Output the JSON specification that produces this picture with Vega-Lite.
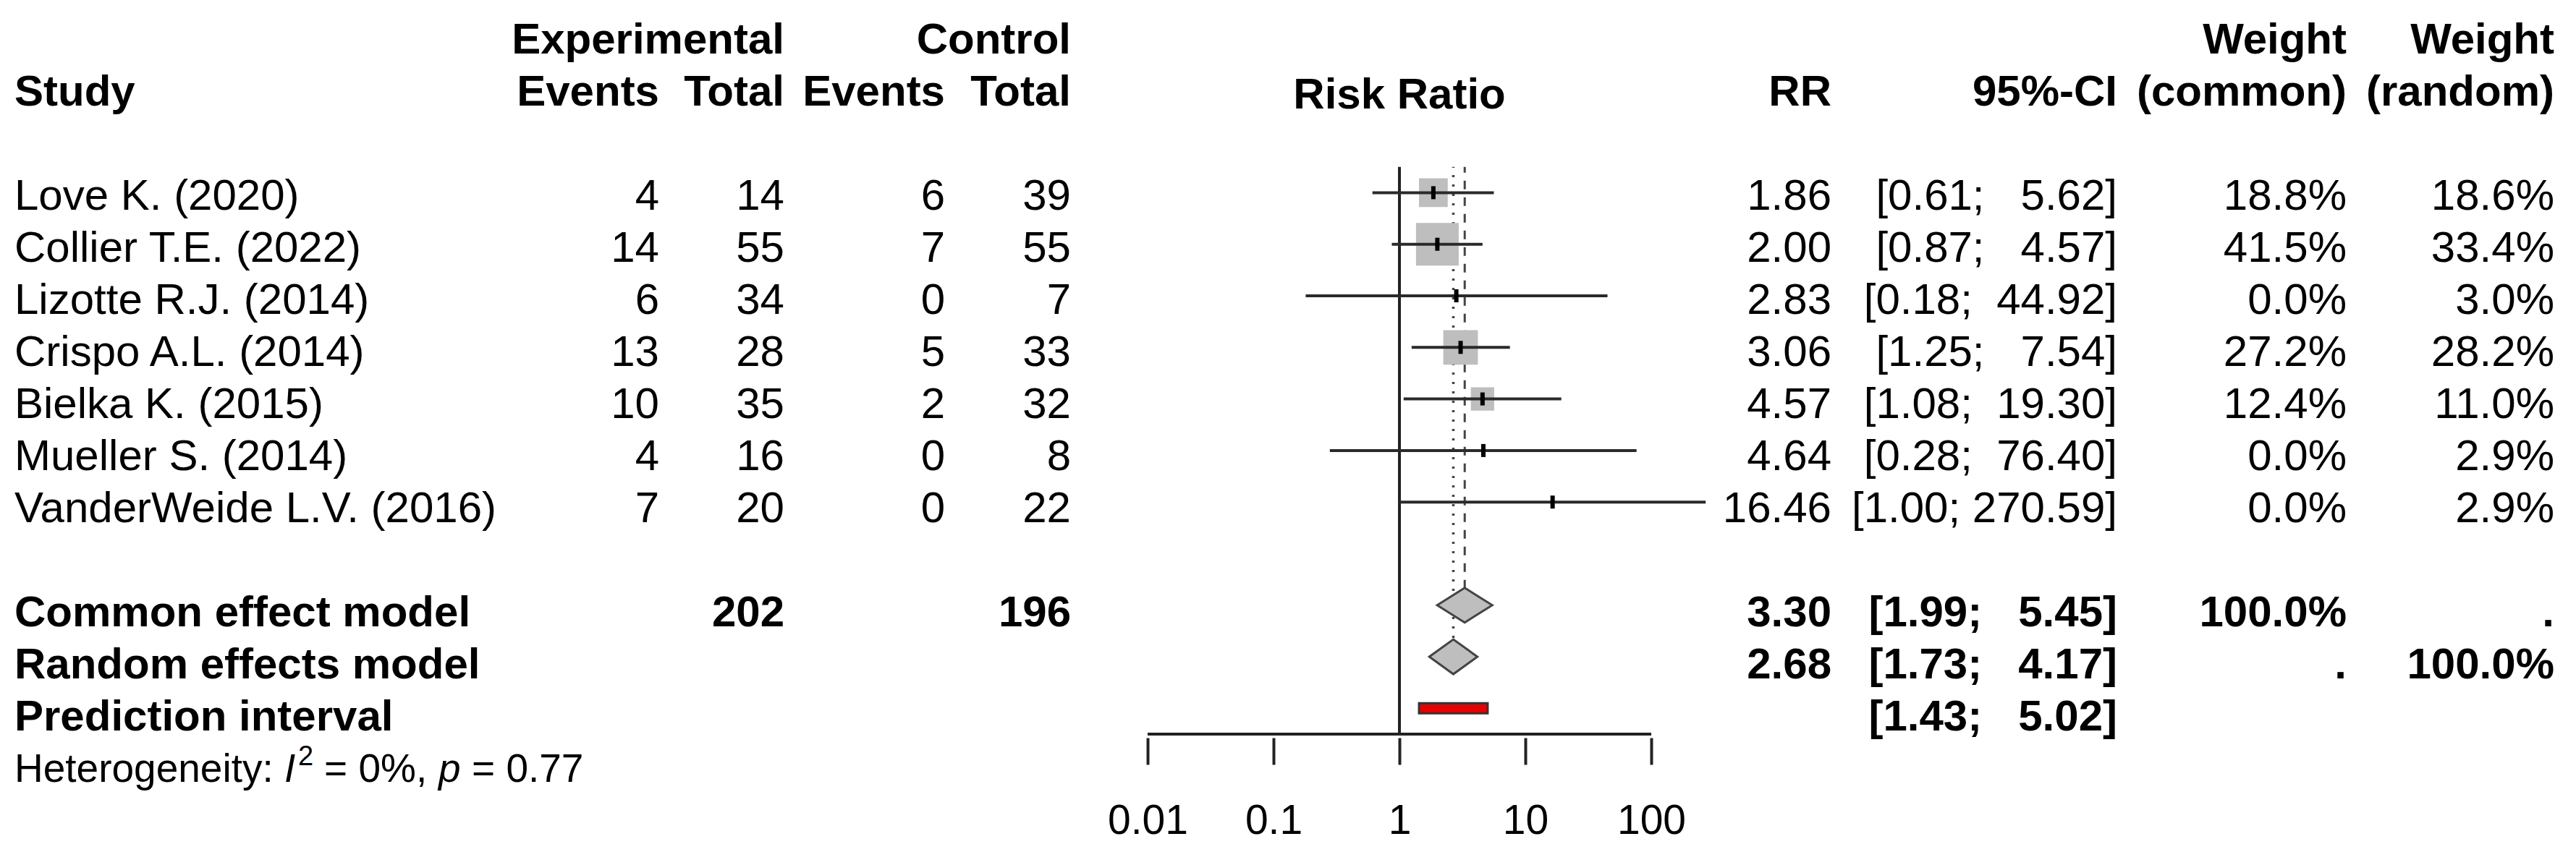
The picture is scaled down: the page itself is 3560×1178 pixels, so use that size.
{
  "$schema": "https://vega.github.io/schema/vega-lite/v6.json",
  "background": "white",
  "padding": {"left": 20, "top": 0, "right": 0, "bottom": 0},
  "spacing": 0,
  "bounds": "flush",
  "config": {
    "view": {"stroke": null},
    "text": {"font": "Liberation Sans", "fontSize": 60, "baseline": "middle", "dy": 8, "color": "black"}
  },
  "resolve": {"scale": {"x": "independent", "y": "independent"}},
  "datasets": {
    "rows": [
      {"study": "Love K. (2020)", "row": 0, "kind": "study", "ee": "4", "et": "14", "ce": "6", "ct": "39", "rr": 1.86, "lo": 0.61, "hi": 5.62, "ci": "[0.61;\u00a0\u00a0\u00a05.62]", "wc": 18.8, "wct": "18.8%", "wrt": "18.6%"},
      {"study": "Collier T.E. (2022)", "row": 1, "kind": "study", "ee": "14", "et": "55", "ce": "7", "ct": "55", "rr": 2.00, "lo": 0.87, "hi": 4.57, "ci": "[0.87;\u00a0\u00a0\u00a04.57]", "wc": 41.5, "wct": "41.5%", "wrt": "33.4%"},
      {"study": "Lizotte R.J. (2014)", "row": 2, "kind": "study", "ee": "6", "et": "34", "ce": "0", "ct": "7", "rr": 2.83, "lo": 0.18, "hi": 44.92, "ci": "[0.18;\u00a0\u00a044.92]", "wc": 0, "wct": "0.0%", "wrt": "3.0%"},
      {"study": "Crispo A.L. (2014)", "row": 3, "kind": "study", "ee": "13", "et": "28", "ce": "5", "ct": "33", "rr": 3.06, "lo": 1.25, "hi": 7.54, "ci": "[1.25;\u00a0\u00a0\u00a07.54]", "wc": 27.2, "wct": "27.2%", "wrt": "28.2%"},
      {"study": "Bielka K. (2015)", "row": 4, "kind": "study", "ee": "10", "et": "35", "ce": "2", "ct": "32", "rr": 4.57, "lo": 1.08, "hi": 19.30, "ci": "[1.08;\u00a0\u00a019.30]", "wc": 12.4, "wct": "12.4%", "wrt": "11.0%"},
      {"study": "Mueller S. (2014)", "row": 5, "kind": "study", "ee": "4", "et": "16", "ce": "0", "ct": "8", "rr": 4.64, "lo": 0.28, "hi": 76.40, "ci": "[0.28;\u00a0\u00a076.40]", "wc": 0, "wct": "0.0%", "wrt": "2.9%"},
      {"study": "VanderWeide L.V. (2016)", "row": 6, "kind": "study", "ee": "7", "et": "20", "ce": "0", "ct": "22", "rr": 16.46, "lo": 1.00, "hi": 270.59, "ci": "[1.00;\u00a0270.59]", "wc": 0, "wct": "0.0%", "wrt": "2.9%"},
      {"study": "Common effect model", "row": 8, "kind": "summary", "et": "202", "ct": "196", "rr": 3.30, "lo": 1.99, "hi": 5.45, "ci": "[1.99;\u00a0\u00a0\u00a05.45]", "wct": "100.0%", "wrt": "."},
      {"study": "Random effects model", "row": 9, "kind": "summary", "rr": 2.68, "lo": 1.73, "hi": 4.17, "ci": "[1.73;\u00a0\u00a0\u00a04.17]", "wct": ".", "wrt": "100.0%"},
      {"study": "Prediction interval", "row": 10, "kind": "summary", "lo": 1.43, "hi": 5.02, "ci": "[1.43;\u00a0\u00a0\u00a05.02]"}
    ],
    "headers": [
      {"col": "study", "row": -2, "label": "Study"},
      {"col": "ee", "row": -2, "label": "Events"},
      {"col": "et", "row": -3, "label": "Experimental"},
      {"col": "et", "row": -2, "label": "Total"},
      {"col": "ce", "row": -2, "label": "Events"},
      {"col": "ct", "row": -3, "label": "Control"},
      {"col": "ct", "row": -2, "label": "Total"},
      {"col": "plot", "row": -2, "label": "Risk Ratio"},
      {"col": "rr", "row": -2, "label": "RR"},
      {"col": "ci", "row": -2, "label": "95%-CI"},
      {"col": "wc", "row": -3, "label": "Weight"},
      {"col": "wc", "row": -2, "label": "(common)"},
      {"col": "wr", "row": -3, "label": "Weight"},
      {"col": "wr", "row": -2, "label": "(random)"}
    ],
    "note": [
      {"row": 11, "part": 1, "label": "Heterogeneity:"},
      {"row": 11, "part": 2, "label": "I"},
      {"row": 11, "part": 3, "label": "2"},
      {"row": 11, "part": 4, "label": "=\u00a00%,"},
      {"row": 11, "part": 5, "label": "p"},
      {"row": 11, "part": 6, "label": "=\u00a00.77"}
    ],
    "refline": [
      {"value": 1, "top": -0.5, "bottom": 10.5}
    ],
    "axisline": [
      {"from": 0.01, "to": 100, "row": 10.5}
    ]
  },
  "hconcat": [
    {
      "width": 600, "height": 1178,
      "layer": [
        {"data": {"name": "headers"}, "transform": [{"filter": "datum.col === 'study'"}],
         "mark": {"type": "text", "align": "left", "fontWeight": "bold"},
         "encoding": {"x": {"value": 0}, "y": {"field": "row", "type": "quantitative", "scale": {"domain": [-3.6667, 12.6944], "reverse": true, "nice": false, "zero": false}, "axis": null}, "text": {"field": "label"}}},
        {"data": {"name": "rows"}, "transform": [{"filter": "datum.kind === 'study'"}],
         "mark": {"type": "text", "align": "left"},
         "encoding": {"x": {"value": 0}, "y": {"field": "row", "type": "quantitative", "scale": {"domain": [-3.6667, 12.6944], "reverse": true, "nice": false, "zero": false}, "axis": null}, "text": {"field": "study"}}},
        {"data": {"name": "rows"}, "transform": [{"filter": "datum.kind === 'summary'"}],
         "mark": {"type": "text", "align": "left", "fontWeight": "bold"},
         "encoding": {"x": {"value": 0}, "y": {"field": "row", "type": "quantitative", "scale": {"domain": [-3.6667, 12.6944], "reverse": true, "nice": false, "zero": false}, "axis": null}, "text": {"field": "study"}}},
        {"data": {"name": "note"}, "transform": [{"filter": "datum.part === 1"}],
         "mark": {"type": "text", "align": "left", "fontSize": 55},
         "encoding": {"x": {"value": 0}, "y": {"field": "row", "type": "quantitative", "scale": {"domain": [-3.6667, 12.6944], "reverse": true, "nice": false, "zero": false}, "axis": null}, "text": {"field": "label"}}},
        {"data": {"name": "note"}, "transform": [{"filter": "datum.part === 2"}],
         "mark": {"type": "text", "align": "left", "fontSize": 55, "fontStyle": "italic", "dx": 373},
         "encoding": {"x": {"value": 0}, "y": {"field": "row", "type": "quantitative", "scale": {"domain": [-3.6667, 12.6944], "reverse": true, "nice": false, "zero": false}, "axis": null}, "text": {"field": "label"}}},
        {"data": {"name": "note"}, "transform": [{"filter": "datum.part === 3"}],
         "mark": {"type": "text", "align": "left", "fontSize": 38, "dx": 392, "dy": -9},
         "encoding": {"x": {"value": 0}, "y": {"field": "row", "type": "quantitative", "scale": {"domain": [-3.6667, 12.6944], "reverse": true, "nice": false, "zero": false}, "axis": null}, "text": {"field": "label"}}},
        {"data": {"name": "note"}, "transform": [{"filter": "datum.part === 4"}],
         "mark": {"type": "text", "align": "left", "fontSize": 55, "dx": 428},
         "encoding": {"x": {"value": 0}, "y": {"field": "row", "type": "quantitative", "scale": {"domain": [-3.6667, 12.6944], "reverse": true, "nice": false, "zero": false}, "axis": null}, "text": {"field": "label"}}},
        {"data": {"name": "note"}, "transform": [{"filter": "datum.part === 5"}],
         "mark": {"type": "text", "align": "left", "fontSize": 55, "fontStyle": "italic", "dx": 586},
         "encoding": {"x": {"value": 0}, "y": {"field": "row", "type": "quantitative", "scale": {"domain": [-3.6667, 12.6944], "reverse": true, "nice": false, "zero": false}, "axis": null}, "text": {"field": "label"}}},
        {"data": {"name": "note"}, "transform": [{"filter": "datum.part === 6"}],
         "mark": {"type": "text", "align": "left", "fontSize": 55, "dx": 632},
         "encoding": {"x": {"value": 0}, "y": {"field": "row", "type": "quantitative", "scale": {"domain": [-3.6667, 12.6944], "reverse": true, "nice": false, "zero": false}, "axis": null}, "text": {"field": "label"}}}
      ]
    },
    {
      "width": 291, "height": 1178,
      "layer": [
        {"data": {"name": "headers"}, "transform": [{"filter": "datum.col === 'ee'"}],
         "mark": {"type": "text", "align": "right", "fontWeight": "bold"},
         "encoding": {"x": {"value": "width"}, "y": {"field": "row", "type": "quantitative", "scale": {"domain": [-3.6667, 12.6944], "reverse": true, "nice": false, "zero": false}, "axis": null}, "text": {"field": "label"}}},
        {"data": {"name": "rows"}, "transform": [{"filter": "datum.kind === 'study' && isValid(datum.ee)"}],
         "mark": {"type": "text", "align": "right"},
         "encoding": {"x": {"value": "width"}, "y": {"field": "row", "type": "quantitative", "scale": {"domain": [-3.6667, 12.6944], "reverse": true, "nice": false, "zero": false}, "axis": null}, "text": {"field": "ee"}}}
      ]
    },
    {
      "width": 173, "height": 1178,
      "layer": [
        {"data": {"name": "headers"}, "transform": [{"filter": "datum.col === 'et'"}],
         "mark": {"type": "text", "align": "right", "fontWeight": "bold"},
         "encoding": {"x": {"value": "width"}, "y": {"field": "row", "type": "quantitative", "scale": {"domain": [-3.6667, 12.6944], "reverse": true, "nice": false, "zero": false}, "axis": null}, "text": {"field": "label"}}},
        {"data": {"name": "rows"}, "transform": [{"filter": "datum.kind === 'study' && isValid(datum.et)"}],
         "mark": {"type": "text", "align": "right"},
         "encoding": {"x": {"value": "width"}, "y": {"field": "row", "type": "quantitative", "scale": {"domain": [-3.6667, 12.6944], "reverse": true, "nice": false, "zero": false}, "axis": null}, "text": {"field": "et"}}},
        {"data": {"name": "rows"}, "transform": [{"filter": "datum.kind === 'summary' && isValid(datum.et)"}],
         "mark": {"type": "text", "align": "right", "fontWeight": "bold"},
         "encoding": {"x": {"value": "width"}, "y": {"field": "row", "type": "quantitative", "scale": {"domain": [-3.6667, 12.6944], "reverse": true, "nice": false, "zero": false}, "axis": null}, "text": {"field": "et"}}}
      ]
    },
    {
      "width": 222, "height": 1178,
      "layer": [
        {"data": {"name": "headers"}, "transform": [{"filter": "datum.col === 'ce'"}],
         "mark": {"type": "text", "align": "right", "fontWeight": "bold"},
         "encoding": {"x": {"value": "width"}, "y": {"field": "row", "type": "quantitative", "scale": {"domain": [-3.6667, 12.6944], "reverse": true, "nice": false, "zero": false}, "axis": null}, "text": {"field": "label"}}},
        {"data": {"name": "rows"}, "transform": [{"filter": "datum.kind === 'study' && isValid(datum.ce)"}],
         "mark": {"type": "text", "align": "right"},
         "encoding": {"x": {"value": "width"}, "y": {"field": "row", "type": "quantitative", "scale": {"domain": [-3.6667, 12.6944], "reverse": true, "nice": false, "zero": false}, "axis": null}, "text": {"field": "ce"}}}
      ]
    },
    {
      "width": 174, "height": 1178,
      "layer": [
        {"data": {"name": "headers"}, "transform": [{"filter": "datum.col === 'ct'"}],
         "mark": {"type": "text", "align": "right", "fontWeight": "bold"},
         "encoding": {"x": {"value": "width"}, "y": {"field": "row", "type": "quantitative", "scale": {"domain": [-3.6667, 12.6944], "reverse": true, "nice": false, "zero": false}, "axis": null}, "text": {"field": "label"}}},
        {"data": {"name": "rows"}, "transform": [{"filter": "datum.kind === 'study' && isValid(datum.ct)"}],
         "mark": {"type": "text", "align": "right"},
         "encoding": {"x": {"value": "width"}, "y": {"field": "row", "type": "quantitative", "scale": {"domain": [-3.6667, 12.6944], "reverse": true, "nice": false, "zero": false}, "axis": null}, "text": {"field": "ct"}}},
        {"data": {"name": "rows"}, "transform": [{"filter": "datum.kind === 'summary' && isValid(datum.ct)"}],
         "mark": {"type": "text", "align": "right", "fontWeight": "bold"},
         "encoding": {"x": {"value": "width"}, "y": {"field": "row", "type": "quantitative", "scale": {"domain": [-3.6667, 12.6944], "reverse": true, "nice": false, "zero": false}, "axis": null}, "text": {"field": "ct"}}}
      ]
    },
    {
      "width": 920, "height": 1020,
      "layer": [
        {"data": {"name": "refline"},
         "mark": {"type": "rule", "stroke": "#222222", "strokeWidth": 4},
         "encoding": {
           "x": {"field": "value", "type": "quantitative", "scale": {"type": "log", "domain": [0.002459, 476.6], "nice": false},
                 "axis": {"values": [0.01, 0.1, 1, 10, 100], "format": "~g", "domain": false, "grid": false, "tickSize": 37, "tickWidth": 4, "tickColor": "#222222", "labelFont": "Liberation Sans", "labelFontSize": 57, "labelColor": "black", "labelPadding": 50, "labelFlush": false, "labelOverlap": false, "title": null}},
           "y": {"field": "top", "type": "quantitative", "scale": {"domain": [-3.6667, 10.5], "reverse": true, "nice": false, "zero": false}, "axis": null},
           "y2": {"field": "bottom"}
         }},
        {"data": {"name": "rows"}, "transform": [{"filter": "datum.study === 'Common effect model'"}],
         "mark": {"type": "rule", "stroke": "#444444", "strokeWidth": 3, "strokeDash": [12, 11]},
         "encoding": {
           "x": {"field": "rr", "type": "quantitative", "title": null, "scale": {"type": "log", "domain": [0.002459, 476.6], "nice": false}},
           "y": {"field": "row", "type": "quantitative", "scale": {"domain": [-3.6667, 10.5], "reverse": true, "nice": false, "zero": false}, "axis": null},
           "y2": {"datum": -0.5}
         }},
        {"data": {"name": "rows"}, "transform": [{"filter": "datum.study === 'Random effects model'"}],
         "mark": {"type": "rule", "stroke": "#444444", "strokeWidth": 3.5, "strokeDash": [3, 10]},
         "encoding": {
           "x": {"field": "rr", "type": "quantitative", "title": null, "scale": {"type": "log", "domain": [0.002459, 476.6], "nice": false}},
           "y": {"field": "row", "type": "quantitative", "scale": {"domain": [-3.6667, 10.5], "reverse": true, "nice": false, "zero": false}, "axis": null},
           "y2": {"datum": -0.5}
         }},
        {"data": {"name": "rows"}, "transform": [{"filter": "datum.kind === 'study' && datum.wc > 0"}],
         "mark": {"type": "point", "shape": "square", "filled": true, "color": "#bebebe", "opacity": 1},
         "encoding": {
           "x": {"field": "rr", "type": "quantitative", "title": null, "scale": {"type": "log", "domain": [0.002459, 476.6], "nice": false}},
           "y": {"field": "row", "type": "quantitative", "scale": {"domain": [-3.6667, 10.5], "reverse": true, "nice": false, "zero": false}, "axis": null},
           "size": {"field": "wc", "type": "quantitative", "scale": {"domain": [0, 41.5], "range": [0, 3481]}, "legend": null}
         }},
        {"data": {"name": "rows"}, "transform": [{"filter": "datum.kind === 'study'"}],
         "mark": {"type": "rule", "stroke": "#2a2a2a", "strokeWidth": 4},
         "encoding": {
           "x": {"field": "lo", "type": "quantitative", "title": null, "scale": {"type": "log", "domain": [0.002459, 476.6], "nice": false}},
           "x2": {"field": "hi"},
           "y": {"field": "row", "type": "quantitative", "scale": {"domain": [-3.6667, 10.5], "reverse": true, "nice": false, "zero": false}, "axis": null}
         }},
        {"data": {"name": "rows"}, "transform": [{"filter": "datum.kind === 'study'"}],
         "mark": {"type": "tick", "orient": "vertical", "size": 18, "thickness": 6, "color": "black", "opacity": 1},
         "encoding": {
           "x": {"field": "rr", "type": "quantitative", "title": null, "scale": {"type": "log", "domain": [0.002459, 476.6], "nice": false}},
           "y": {"field": "row", "type": "quantitative", "scale": {"domain": [-3.6667, 10.5], "reverse": true, "nice": false, "zero": false}, "axis": null}
         }},
        {"data": {"name": "rows"}, "transform": [{"filter": "datum.study === 'Common effect model'"}],
         "mark": {"type": "point", "shape": "M-1,0L0,-0.630L1,0L0,0.630Z", "size": 5797, "filled": true, "fill": "#bebebe", "stroke": "#444444", "strokeWidth": 3, "opacity": 1, "fillOpacity": 1, "strokeOpacity": 1},
         "encoding": {
           "x": {"field": "rr", "type": "quantitative", "title": null, "scale": {"type": "log", "domain": [0.002459, 476.6], "nice": false}},
           "y": {"field": "row", "type": "quantitative", "scale": {"domain": [-3.6667, 10.5], "reverse": true, "nice": false, "zero": false}, "axis": null}
         }},
        {"data": {"name": "rows"}, "transform": [{"filter": "datum.study === 'Random effects model'"}],
         "mark": {"type": "point", "shape": "M-1,0L0,-0.722L1,0L0,0.722Z", "size": 4420, "filled": true, "fill": "#bebebe", "stroke": "#444444", "strokeWidth": 3, "opacity": 1, "fillOpacity": 1, "strokeOpacity": 1},
         "encoding": {
           "x": {"field": "rr", "type": "quantitative", "title": null, "scale": {"type": "log", "domain": [0.002459, 476.6], "nice": false}},
           "y": {"field": "row", "type": "quantitative", "scale": {"domain": [-3.6667, 10.5], "reverse": true, "nice": false, "zero": false}, "axis": null}
         }},
        {"data": {"name": "rows"}, "transform": [{"filter": "datum.study === 'Prediction interval'"}],
         "mark": {"type": "bar", "orient": "horizontal", "size": 14, "fill": "#e60000", "stroke": "#333333", "strokeWidth": 3, "opacity": 1},
         "encoding": {
           "x": {"field": "lo", "type": "quantitative", "title": null, "scale": {"type": "log", "domain": [0.002459, 476.6], "nice": false}},
           "x2": {"field": "hi"},
           "y": {"field": "row", "type": "quantitative", "scale": {"domain": [-3.6667, 10.5], "reverse": true, "nice": false, "zero": false}, "axis": null}
         }},
        {"data": {"name": "axisline"},
         "mark": {"type": "rule", "stroke": "#222222", "strokeWidth": 4},
         "encoding": {
           "x": {"field": "from", "type": "quantitative", "title": null, "scale": {"type": "log", "domain": [0.002459, 476.6], "nice": false}},
           "x2": {"field": "to"},
           "y": {"field": "row", "type": "quantitative", "scale": {"domain": [-3.6667, 10.5], "reverse": true, "nice": false, "zero": false}, "axis": null}
         }},
        {"data": {"name": "headers"}, "transform": [{"filter": "datum.col === 'plot'"}],
         "mark": {"type": "text", "align": "center", "fontWeight": "bold"},
         "encoding": {
           "x": {"datum": 1, "type": "quantitative", "scale": {"type": "log", "domain": [0.002459, 476.6], "nice": false}},
           "y": {"field": "row", "type": "quantitative", "scale": {"domain": [-3.6667, 10.5], "reverse": true, "nice": false, "zero": false}, "axis": null},
           "text": {"field": "label"}
         }}
      ]
    },
    {
      "width": 131, "height": 1178,
      "layer": [
        {"data": {"name": "headers"}, "transform": [{"filter": "datum.col === 'rr'"}],
         "mark": {"type": "text", "align": "right", "fontWeight": "bold"},
         "encoding": {"x": {"value": "width"}, "y": {"field": "row", "type": "quantitative", "scale": {"domain": [-3.6667, 12.6944], "reverse": true, "nice": false, "zero": false}, "axis": null}, "text": {"field": "label"}}},
        {"data": {"name": "rows"}, "transform": [{"filter": "datum.kind === 'study' && isValid(datum.rr)"}],
         "mark": {"type": "text", "align": "right"},
         "encoding": {"x": {"value": "width"}, "y": {"field": "row", "type": "quantitative", "scale": {"domain": [-3.6667, 12.6944], "reverse": true, "nice": false, "zero": false}, "axis": null}, "text": {"field": "rr", "type": "quantitative", "format": ".2f"}}},
        {"data": {"name": "rows"}, "transform": [{"filter": "datum.kind === 'summary' && isValid(datum.rr)"}],
         "mark": {"type": "text", "align": "right", "fontWeight": "bold"},
         "encoding": {"x": {"value": "width"}, "y": {"field": "row", "type": "quantitative", "scale": {"domain": [-3.6667, 12.6944], "reverse": true, "nice": false, "zero": false}, "axis": null}, "text": {"field": "rr", "type": "quantitative", "format": ".2f"}}}
      ]
    },
    {
      "width": 395, "height": 1178,
      "layer": [
        {"data": {"name": "headers"}, "transform": [{"filter": "datum.col === 'ci'"}],
         "mark": {"type": "text", "align": "right", "fontWeight": "bold"},
         "encoding": {"x": {"value": "width"}, "y": {"field": "row", "type": "quantitative", "scale": {"domain": [-3.6667, 12.6944], "reverse": true, "nice": false, "zero": false}, "axis": null}, "text": {"field": "label"}}},
        {"data": {"name": "rows"}, "transform": [{"filter": "datum.kind === 'study' && isValid(datum.ci)"}],
         "mark": {"type": "text", "align": "right"},
         "encoding": {"x": {"value": "width"}, "y": {"field": "row", "type": "quantitative", "scale": {"domain": [-3.6667, 12.6944], "reverse": true, "nice": false, "zero": false}, "axis": null}, "text": {"field": "ci"}}},
        {"data": {"name": "rows"}, "transform": [{"filter": "datum.kind === 'summary' && isValid(datum.ci)"}],
         "mark": {"type": "text", "align": "right", "fontWeight": "bold"},
         "encoding": {"x": {"value": "width"}, "y": {"field": "row", "type": "quantitative", "scale": {"domain": [-3.6667, 12.6944], "reverse": true, "nice": false, "zero": false}, "axis": null}, "text": {"field": "ci"}}}
      ]
    },
    {
      "width": 317, "height": 1178,
      "layer": [
        {"data": {"name": "headers"}, "transform": [{"filter": "datum.col === 'wc'"}],
         "mark": {"type": "text", "align": "right", "fontWeight": "bold"},
         "encoding": {"x": {"value": "width"}, "y": {"field": "row", "type": "quantitative", "scale": {"domain": [-3.6667, 12.6944], "reverse": true, "nice": false, "zero": false}, "axis": null}, "text": {"field": "label"}}},
        {"data": {"name": "rows"}, "transform": [{"filter": "datum.kind === 'study' && isValid(datum.wct)"}],
         "mark": {"type": "text", "align": "right"},
         "encoding": {"x": {"value": "width"}, "y": {"field": "row", "type": "quantitative", "scale": {"domain": [-3.6667, 12.6944], "reverse": true, "nice": false, "zero": false}, "axis": null}, "text": {"field": "wct"}}},
        {"data": {"name": "rows"}, "transform": [{"filter": "datum.kind === 'summary' && isValid(datum.wct)"}],
         "mark": {"type": "text", "align": "right", "fontWeight": "bold"},
         "encoding": {"x": {"value": "width"}, "y": {"field": "row", "type": "quantitative", "scale": {"domain": [-3.6667, 12.6944], "reverse": true, "nice": false, "zero": false}, "axis": null}, "text": {"field": "wct"}}}
      ]
    },
    {
      "width": 287, "height": 1178,
      "layer": [
        {"data": {"name": "headers"}, "transform": [{"filter": "datum.col === 'wr'"}],
         "mark": {"type": "text", "align": "right", "fontWeight": "bold"},
         "encoding": {"x": {"value": "width"}, "y": {"field": "row", "type": "quantitative", "scale": {"domain": [-3.6667, 12.6944], "reverse": true, "nice": false, "zero": false}, "axis": null}, "text": {"field": "label"}}},
        {"data": {"name": "rows"}, "transform": [{"filter": "datum.kind === 'study' && isValid(datum.wrt)"}],
         "mark": {"type": "text", "align": "right"},
         "encoding": {"x": {"value": "width"}, "y": {"field": "row", "type": "quantitative", "scale": {"domain": [-3.6667, 12.6944], "reverse": true, "nice": false, "zero": false}, "axis": null}, "text": {"field": "wrt"}}},
        {"data": {"name": "rows"}, "transform": [{"filter": "datum.kind === 'summary' && isValid(datum.wrt)"}],
         "mark": {"type": "text", "align": "right", "fontWeight": "bold"},
         "encoding": {"x": {"value": "width"}, "y": {"field": "row", "type": "quantitative", "scale": {"domain": [-3.6667, 12.6944], "reverse": true, "nice": false, "zero": false}, "axis": null}, "text": {"field": "wrt"}}}
      ]
    }
  ]
}
